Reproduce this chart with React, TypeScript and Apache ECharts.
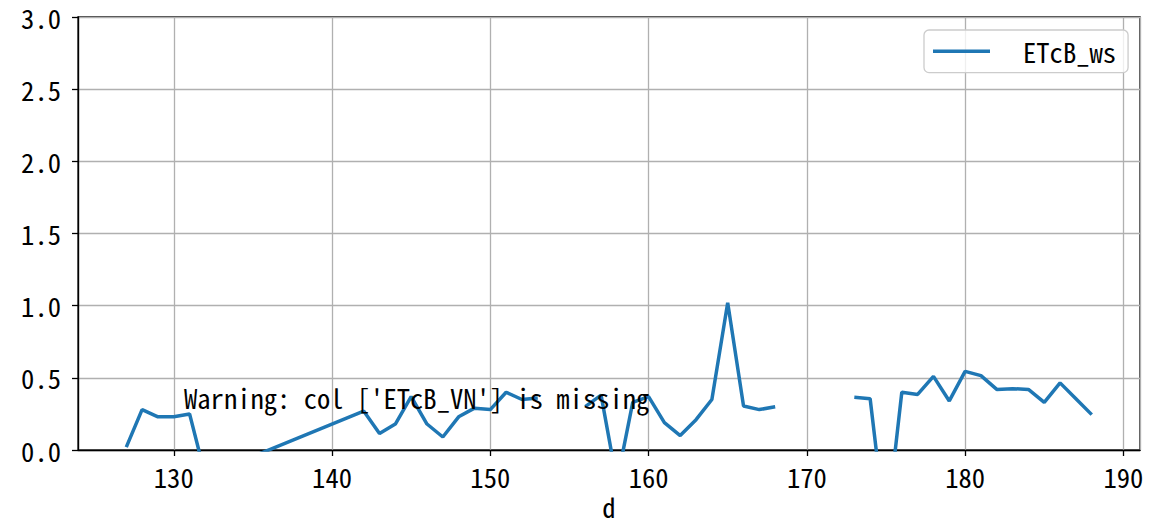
import React, { useEffect, useRef } from "react";
import * as echarts from "echarts";

// Day index (x) and ETcB_ws values (y); null marks a gap in the line
const days = [
  127, 128, 129, 130, 131, 132, 142, 143, 144, 145, 146, 147, 148, 149, 150,
  151, 152, 153, 154, 155, 156, 157, 158, 159, 160, 161, 162, 163, 164, 165,
  166, 167, 168, 170, 173, 174, 175, 176, 177, 178, 179, 180, 181, 182, 183,
  184, 185, 186, 187, 188,
];
const etcbWs: (number | null)[] = [
  0.02, 0.28, 0.23, 0.23, 0.25, -0.18, 0.27, 0.115, 0.18, 0.37, 0.18, 0.09,
  0.23, 0.29, 0.28, 0.4, 0.35, 0.36, null, null, 0.3, 0.38, -0.22, 0.33, 0.37,
  0.19, 0.1, 0.21, 0.35, 1.02, 0.305, 0.28, 0.3, null, 0.365, 0.355, -0.57,
  0.4, 0.385, 0.51, 0.34, 0.545, 0.515, 0.42, 0.425, 0.42, 0.33, 0.465, 0.355,
  0.245,
];
const seriesName = "ETcB_ws";
const xLabel = "d";
const warningText = "Warning: col ['ETcB_VN'] is missing";
const xRange = [123.95, 191.05];
const yRange = [0, 3];
const yStep = 0.5;

const FONT = '"Noto Sans Mono CJK SC", "DejaVu Sans Mono", monospace';
const FS = 26.6;

export default function App() {
  const ref = useRef<HTMLDivElement>(null);
  useEffect(() => {
    const chart = echarts.init(ref.current!, null, { renderer: "svg" });
    chart.setOption({
      animation: false,
      backgroundColor: "#ffffff",
      grid: {
        left: 78,
        top: 17,
        right: 12,
        bottom: 70,
        show: true,
        borderColor: "#000",
        borderWidth: 1.3,
        backgroundColor: "transparent",
        containLabel: false,
        outerBoundsMode: "none",
      },
      legend: {
        left: 924,
        top: 30,
        padding: [8, 12, 8, 9],
        icon: "rect",
        itemWidth: 57,
        itemHeight: 3.5,
        backgroundColor: "rgba(255,255,255,0.8)",
        borderColor: "#cccccc",
        borderWidth: 1.3,
        borderRadius: 5,
        textStyle: {
          fontFamily: FONT,
          fontSize: FS,
          color: "#000",
          padding: [0, 0, 0, 28],
        },
        data: [seriesName],
      },
      xAxis: {
        type: "value",
        min: xRange[0],
        max: xRange[1],
        splitNumber: 7,
        name: xLabel,
        nameLocation: "middle",
        nameGap: 46,
        nameMoveOverlap: false,
        nameTextStyle: { fontFamily: FONT, fontSize: FS, color: "#000", lineHeight: 20 },
        axisLine: { lineStyle: { color: "#000", width: 1.3 } },
        axisTick: { show: true, length: 6, lineStyle: { color: "#000", width: 1.3 } },
        axisLabel: {
          fontFamily: FONT,
          fontSize: FS,
          color: "#000",
          margin: 13,
          lineHeight: 27,
          showMinLabel: false,
          showMaxLabel: false,
        },
        splitLine: { show: true, lineStyle: { color: "#b0b0b0", width: 1.3 } },
      },
      yAxis: {
        type: "value",
        min: yRange[0],
        max: yRange[1],
        interval: yStep,
        axisLine: { show: true, lineStyle: { color: "#000", width: 1.3 } },
        axisTick: { show: true, length: 6, lineStyle: { color: "#000", width: 1.3 } },
        axisLabel: {
          fontFamily: FONT,
          fontSize: FS,
          color: "#000",
          margin: 17,
          lineHeight: 20,
          formatter: (v: number) => v.toFixed(1),
        },
        splitLine: { show: true, lineStyle: { color: "#b0b0b0", width: 1.3 } },
      },
      series: [
        {
          name: seriesName,
          type: "line",
          data: days.map((d, i) => [d, etcbWs[i]]),
          showSymbol: false,
          symbol: "none",
          clip: true,
          connectNulls: false,
          lineStyle: { color: "#1f77b4", width: 3.5 },
          itemStyle: { color: "#1f77b4" },
        },
      ],
      graphic: [
        {
          type: "text",
          x: 184,
          y: 397,
          z: 100,
          style: {
            text: warningText,
            font: `${FS}px ${FONT}`,
            fill: "#000",
            align: "left",
            verticalAlign: "middle",
          },
        },
      ],
    });
    return () => chart.dispose();
  }, []);
  return (
    <div
      ref={ref}
      style={{ position: "fixed", left: 0, top: 0, width: 1152, height: 520, background: "#fff" }}
    />
  );
}
